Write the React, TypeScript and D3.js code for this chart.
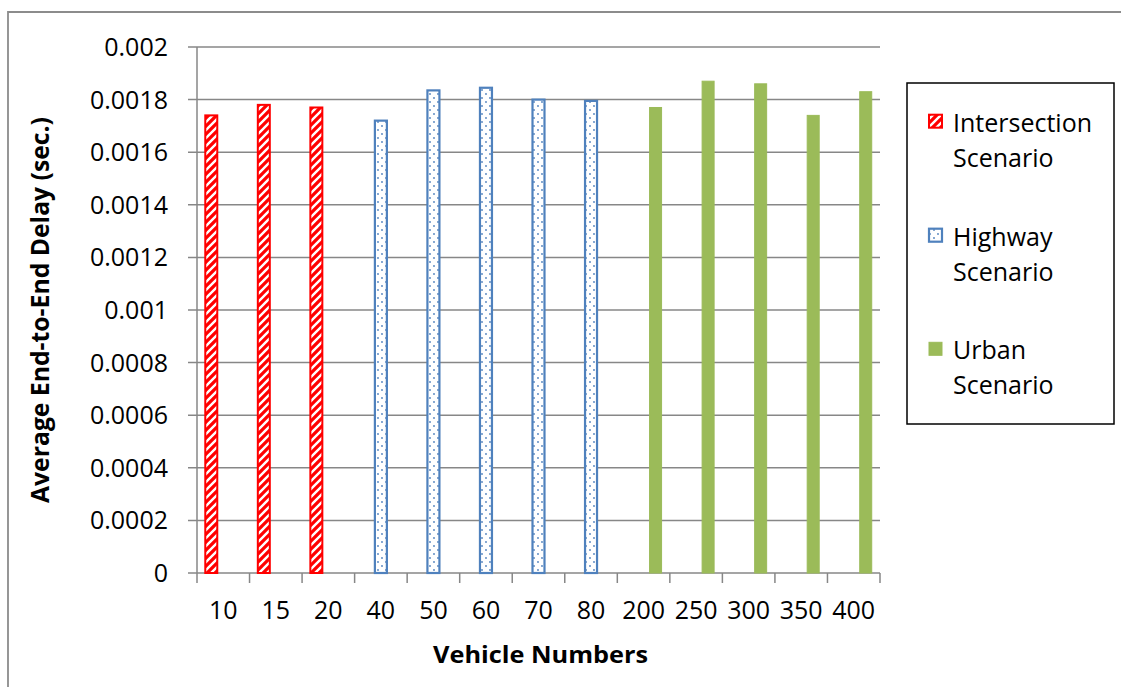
import React from 'react';
import * as d3 from 'd3';

const categories = ['10', '15', '20', '40', '50', '60', '70', '80', '200', '250', '300', '350', '400'];
const seriesNames = ['Intersection', 'Highway', 'Urban'];

const intersectionCats = ['10', '15', '20'];
const intersectionValues = [0.00174, 0.00178, 0.00177];

const highwayCats = ['40', '50', '60', '70', '80'];
const highwayValues = [0.00172, 0.001835, 0.001845, 0.0018, 0.001795];

const urbanCats = ['200', '250', '300', '350', '400'];
const urbanValues = [0.00177, 0.00187, 0.00186, 0.00174, 0.00183];

const yTicks = [0, 0.0002, 0.0004, 0.0006, 0.0008, 0.001, 0.0012, 0.0014, 0.0016, 0.0018, 0.002];
const yTickLabels = ['0', '0.0002', '0.0004', '0.0006', '0.0008', '0.001', '0.0012', '0.0014', '0.0016', '0.0018', '0.002'];

const legendLines = [
  ['Intersection', 'Scenario'],
  ['Highway', 'Scenario'],
  ['Urban', 'Scenario'],
];

const W = 1121;
const H = 687;
const plot = { left: 197, right: 880, top: 47, bottom: 573 };
const GRID = '#878787';
const RED = '#FF0000';
const BLUE = '#4F81BD';
const GREEN = '#9BBB59';
const FONT = "'Open Sans', 'DejaVu Sans', sans-serif";

export default function App() {
  const x = d3.scaleBand<string>().domain(categories).range([plot.left, plot.right]).paddingInner(0).paddingOuter(0);
  const inner = d3.scaleBand<string>().domain(seriesNames).range([0, x.bandwidth()]).paddingInner(0).paddingOuter(0.69);
  const y = d3.scaleLinear().domain([0, 0.002]).range([plot.bottom, plot.top]);
  const bw = inner.bandwidth();

  const series = [
    { name: 'Intersection', cats: intersectionCats, values: intersectionValues, fill: 'url(#redDiag)', stroke: RED, sw: 2 },
    { name: 'Highway', cats: highwayCats, values: highwayValues, fill: 'url(#blueDots)', stroke: BLUE, sw: 2.2 },
    { name: 'Urban', cats: urbanCats, values: urbanValues, fill: GREEN, stroke: GREEN, sw: 1 },
  ];

  const boundaries = categories.map((c) => x(c)!).concat([plot.right]);
  const legendBase = [131.7, 245.7, 359.3];

  return (
    <svg width={W} height={H} style={{ position: 'absolute', left: 0, top: 0, background: '#fff' }} fontFamily={FONT}>
      <defs>
        <pattern id="redDiag" patternUnits="userSpaceOnUse" width={8} height={8}>
          <rect width={8} height={8} fill={RED} />
          <path d="M-1,9 L9,-1 M-3,3 L3,-3 M5,11 L11,5" stroke="#fff" strokeWidth={2.4} />
        </pattern>
        <pattern id="blueDots" patternUnits="userSpaceOnUse" width={8} height={8}>
          <rect width={8} height={8} fill="#fff" />
          <circle cx={2} cy={2} r={0.9} fill={BLUE} />
          <circle cx={6} cy={6} r={0.9} fill={BLUE} />
        </pattern>
      </defs>
      <rect x={0} y={0} width={W} height={H} fill="#fff" />
      {/* outer chart border */}
      <path d={`M8,${H} L8,12 L${W},12`} fill="none" stroke="#8c8c8c" strokeWidth={1.8} />

      {/* gridlines */}
      {yTicks.map((t, i) => (
        <line key={'g' + i} x1={plot.left - 9} x2={i === 0 ? plot.right : plot.right} y1={y(t)} y2={y(t)} stroke={GRID} strokeWidth={1.5} />
      ))}
      {/* y axis line */}
      <line x1={plot.left} x2={plot.left} y1={plot.top} y2={plot.bottom} stroke={GRID} strokeWidth={1.5} />
      {/* x ticks */}
      {boundaries.map((bx, i) => (
        <line key={'xt' + i} x1={bx} x2={bx} y1={plot.bottom} y2={plot.bottom + 10} stroke={GRID} strokeWidth={1.5} />
      ))}

      {/* bars */}
      {series.map((s) =>
        s.cats.map((c, i) => {
          const x0 = x(c)! + inner(s.name)!;
          const y0 = y(s.values[i]);
          return (
            <rect
              key={s.name + c}
              x={x0}
              y={y0}
              width={bw}
              height={plot.bottom - y0}
              fill={s.fill}
              stroke={s.stroke}
              strokeWidth={s.sw}
            />
          );
        })
      )}

      {/* y tick labels */}
      {yTicks.map((t, i) => (
        <text key={'yl' + i} x={168} y={y(t) + 9} textAnchor="end" fontSize={25} fill="#000">
          {yTickLabels[i]}
        </text>
      ))}
      {/* x tick labels */}
      {categories.map((c) => (
        <text key={'xl' + c} x={x(c)! + x.bandwidth() / 2} y={619} textAnchor="middle" fontSize={25} fill="#000">
          {c}
        </text>
      ))}

      {/* axis titles */}
      <text x={540.5} y={663} textAnchor="middle" fontSize={24} fontWeight="bold" textLength={215} lengthAdjust="spacingAndGlyphs">
        Vehicle Numbers
      </text>
      <text
        transform={`translate(49,${(plot.top + plot.bottom) / 2}) rotate(-90)`}
        textAnchor="middle"
        fontSize={25}
        fontWeight="bold"
        textLength={386}
        lengthAdjust="spacingAndGlyphs"
      >
        Average End-to-End Delay (sec.)
      </text>

      {/* legend */}
      <rect x={907} y={83} width={207} height={341} fill="#fff" stroke="#000" strokeWidth={1.5} />
      {series.map((s, i) => (
        <g key={'lg' + s.name}>
          <rect x={929} y={legendBase[i] - 17} width={13} height={13} fill={s.fill} stroke={s.stroke} strokeWidth={s.sw} />
          <text x={953} y={legendBase[i]} fontSize={25} fill="#000">
            {legendLines[i][0]}
          </text>
          <text x={953} y={legendBase[i] + 35} fontSize={25} fill="#000">
            {legendLines[i][1]}
          </text>
        </g>
      ))}
    </svg>
  );
}
